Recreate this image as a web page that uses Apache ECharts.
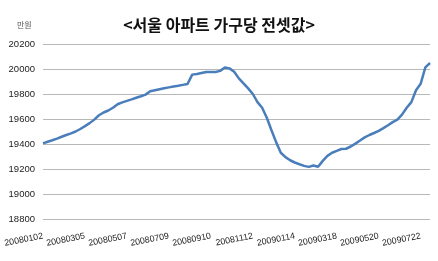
<!DOCTYPE html>
<html><head><meta charset="utf-8">
<script src="https://cdn.jsdelivr.net/npm/echarts@6/dist/echarts.min.js"></script>
<style>html,body{margin:0;padding:0;background:#fff;}#c{width:438px;height:261px;}</style>
</head><body><div id="c"></div>
<script>
var titleText = '<서울 아파트 가구당 전셋값>';
var unitText = '만원';
var dates = [
'20080102','20080109','20080116','20080123','20080130','20080206','20080213','20080220','20080227','20080305',
'20080312','20080319','20080326','20080402','20080409','20080416','20080423','20080430','20080507','20080514',
'20080521','20080528','20080604','20080611','20080618','20080625','20080702','20080709','20080716','20080723',
'20080730','20080806','20080813','20080820','20080827','20080903','20080910','20080917','20080924','20081001',
'20081008','20081015','20081022','20081029','20081105','20081112','20081119','20081126','20081203','20081210',
'20081217','20081224','20081231','20090107','20090114','20090121','20090128','20090204','20090211','20090218',
'20090225','20090304','20090311','20090318','20090325','20090401','20090408','20090415','20090422','20090429',
'20090506','20090513','20090520','20090527','20090603','20090610','20090617','20090624','20090701','20090708',
'20090715','20090722','20090729','20090805'];
var prices = [
19405,19418,19430,19443,19458,19472,19485,19500,19520,19543,
19567,19595,19630,19652,19668,19690,19718,19733,19745,19757,
19770,19782,19795,19822,19830,19838,19846,19853,19860,19866,
19873,19880,19955,19960,19968,19976,19976,19976,19985,20012,
20005,19978,19925,19885,19845,19800,19735,19690,19610,19510,
19415,19330,19295,19270,19252,19238,19225,19217,19228,19218,
19265,19305,19330,19345,19360,19362,19380,19403,19428,19453,
19472,19488,19505,19527,19550,19575,19595,19635,19690,19735,
19830,19882,20013,20048];
var yMin = 18800, yMax = 20200, yStep = 200;
var labelEvery = 9;

var chart = echarts.init(document.getElementById('c'), null, {renderer:'canvas'});
chart.setOption({
  animation:false,
  backgroundColor:'#fff',
  title:[
    {text:titleText, left:'center', top:12, textStyle:{fontFamily:'Noto Sans CJK KR', fontSize:16, fontWeight:'bold', color:'#111'}},
    {text:unitText, left:12, top:16, textStyle:{fontFamily:'Noto Sans CJK KR', fontSize:8, fontWeight:'normal', color:'#555'}}
  ],
  grid:{left:43, right:8, top:44, bottom:42, containLabel:false},
  xAxis:{
    type:'category', data:dates, boundaryGap:false,
    axisLine:{show:false}, axisTick:{show:false},
    axisLabel:{
      interval:function(i){ return i % labelEvery === 0; },
      rotate:11, fontSize:8.8, color:'#222', fontFamily:'Liberation Sans', margin:17,
      hideOverlap:false
    }
  },
  yAxis:{
    type:'value', min:yMin, max:yMax, interval:yStep,
    axisLine:{show:false}, axisTick:{show:false},
    axisLabel:{fontSize:9.5, color:'#222', fontFamily:'Liberation Sans', margin:8, formatter:function(v){return String(v);}},
    splitLine:{lineStyle:{color:'#b8b8b8', width:1.2}}
  },
  series:[{
    type:'line', data:prices, showSymbol:false, symbol:'none',
    lineStyle:{color:'#4a7ebb', width:2.5}
  }]
});
</script></body></html>
